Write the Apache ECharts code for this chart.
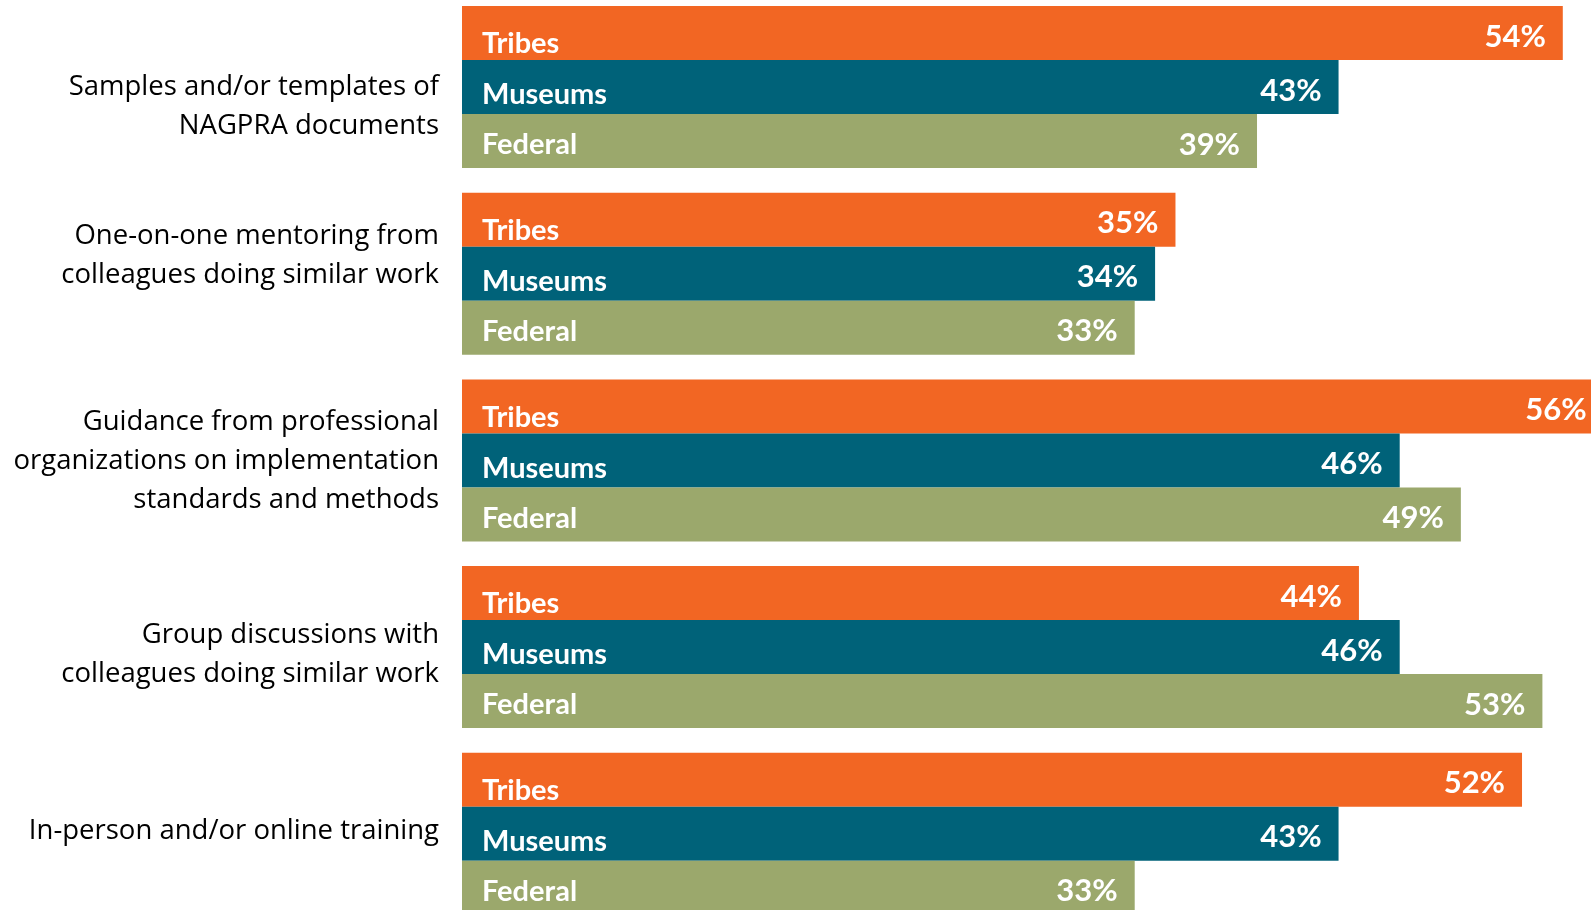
<!DOCTYPE html>
<html>
<head>
<meta charset="utf-8">
<script src="https://cdn.jsdelivr.net/npm/echarts@6/dist/echarts.min.js"></script>
<style>
html,body{margin:0;padding:0;background:#fff;}
#chart{width:1591px;height:910px;}
</style>
</head>
<body>
<div id="chart"></div>
<script>
const categories = [
  "Samples and/or templates of\nNAGPRA documents",
  "One-on-one mentoring from\ncolleagues doing similar work",
  "Guidance from professional\norganizations on implementation\nstandards and methods",
  "Group discussions with\ncolleagues doing similar work",
  "In-person and/or online training"
];
const seriesNames = ["Tribes", "Museums", "Federal"];
const tribes = [54, 35, 56, 44, 52];
const museums = [43, 34, 46, 46, 43];
const federal = [39, 33, 49, 53, 33];

const colors = ["#F26623", "#006279", "#9BA86C"];
const nameOffsets = [11, 8, 4];
const labelShifts = [20, -18, 1, 8, -3];
const values = [tribes, museums, federal];

const chart = echarts.init(document.getElementById('chart'), null, {renderer: 'canvas'});

const rich = {t: {fontFamily: 'Open Sans', fontSize: 27.5, lineHeight: 39, color: '#000', align: 'right'}};
labelShifts.forEach(d => {
  const h = Math.abs(d) * 2;
  if (h >= 2) rich['sp' + h] = {fontSize: 1, lineHeight: h, height: h, align: 'right'};
});

function labelFormatter(value, idx) {
  const lines = value.split('\n').map(l => '{t|' + l + '}');
  const d = labelShifts[idx];
  const h = Math.abs(d) * 2;
  if (h >= 2) {
    if (d > 0) lines.unshift('{sp' + h + '| }');
    else lines.push('{sp' + h + '| }');
  }
  return lines.join('\n');
}

const catAxisBase = {
  type: 'category',
  data: categories,
  inverse: true,
  axisLine: {show: false},
  axisTick: {show: false},
  splitLine: {show: false}
};
const valAxisBase = {
  type: 'value',
  min: 0,
  max: 60,
  axisLine: {show: false},
  axisTick: {show: false},
  splitLine: {show: false},
  axisLabel: {show: false}
};

const series = [];
values.forEach((arr, i) => {
  series.push({
    name: seriesNames[i],
    type: 'bar',
    data: arr,
    xAxisIndex: 0,
    yAxisIndex: 0,
    barWidth: 54,
    barGap: '0%',
    itemStyle: {color: colors[i]},
    label: {
      show: true,
      position: 'insideRight',
      distance: 17,
      offset: [0, 3.5],
      formatter: '{c}%',
      color: '#fff',
      fontFamily: 'Lato',
      fontWeight: 'bold',
      fontSize: 31
    }
  });
});
values.forEach((arr, i) => {
  series.push({
    name: seriesNames[i],
    type: 'bar',
    data: arr,
    xAxisIndex: 1,
    yAxisIndex: 1,
    barWidth: 54,
    barGap: '0%',
    itemStyle: {color: 'rgba(0,0,0,0)'},
    label: {
      show: true,
      position: 'insideLeft',
      distance: 20,
      offset: [0, nameOffsets[i]],
      formatter: seriesNames[i],
      color: '#fff',
      fontFamily: 'Lato',
      fontWeight: 'bold',
      fontSize: 29
    }
  });
});

chart.setOption({
  animation: false,
  backgroundColor: '#fff',
  grid: {left: 462, top: -6.35, width: 1223.1, height: 933.5, containLabel: false, outerBoundsMode: 'none'},
  xAxis: [
    Object.assign({}, valAxisBase),
    Object.assign({}, valAxisBase, {show: false})
  ],
  yAxis: [
    Object.assign({}, catAxisBase, {
      axisLabel: {
        show: true,
        margin: 23,
        color: '#000',
        fontFamily: 'Open Sans',
        fontSize: 27.5,
        lineHeight: 39,
        align: 'right',
        formatter: labelFormatter,
        rich: rich
      }
    }),
    Object.assign({}, catAxisBase, {show: false})
  ],
  series: series
});
</script>
</body>
</html>
